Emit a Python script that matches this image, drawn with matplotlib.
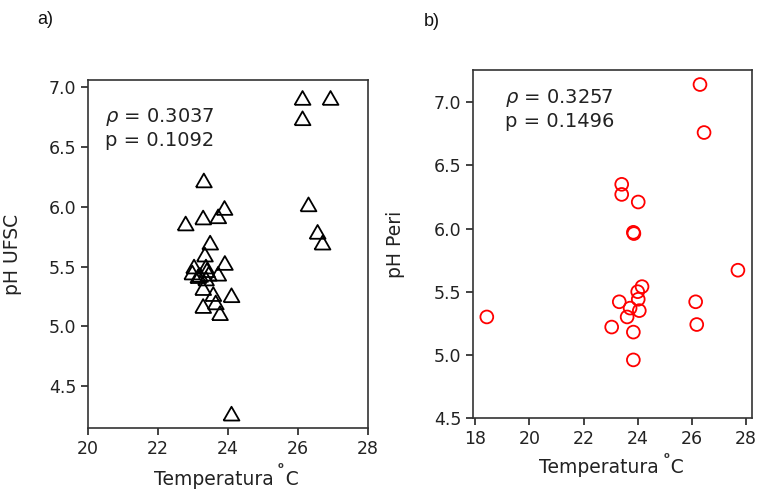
import matplotlib
matplotlib.use("Agg")
import matplotlib.pyplot as plt

# Panel a: temperature vs pH (UFSC)
temp_ufsc = [26.13, 26.93, 26.13, 26.30, 26.56, 26.70, 24.10,
             23.31, 23.90, 23.72, 23.29, 22.79, 23.49, 23.34, 23.91,
             23.03, 23.37, 22.98, 23.20, 23.45, 23.72, 23.37, 23.29,
             23.58, 24.10, 23.65, 23.29, 23.77, 23.15, 23.40]
ph_ufsc = [6.91, 6.91, 6.74, 6.02, 5.79, 5.70, 4.27,
           6.22, 5.99, 5.92, 5.91, 5.86, 5.70, 5.60, 5.53,
           5.50, 5.50, 5.45, 5.43, 5.44, 5.44, 5.40, 5.32,
           5.27, 5.26, 5.20, 5.17, 5.11, 5.42, 5.47]

# Panel b: temperature vs pH (Peri)
temp_peri = [26.30, 26.45, 23.41, 23.41, 24.02, 23.84, 23.86, 27.70,
             24.16, 24.00, 23.32, 26.14, 24.02, 23.72, 24.06, 23.61,
             18.43, 23.04, 26.18, 23.84, 23.84]
ph_peri = [7.14, 6.76, 6.35, 6.27, 6.21, 5.97, 5.96, 5.67,
           5.54, 5.50, 5.42, 5.42, 5.44, 5.37, 5.35, 5.30,
           5.30, 5.22, 5.24, 5.18, 4.96]

stats_ufsc = ("0.3037", "0.1092")
stats_peri = ("0.3257", "0.1496")

xticks_a = [20, 22, 24, 26, 28]
yticks_a = [4.5, 5.0, 5.5, 6.0, 6.5, 7.0]
xticks_b = [18, 20, 22, 24, 26, 28]
yticks_b = [4.5, 5.0, 5.5, 6.0, 6.5, 7.0]

W, H = 760, 490
fig = plt.figure(figsize=(W / 100, H / 100), dpi=100)


def rect(x0, y0, x1, y1):
    return [x0 / W, 1 - y1 / H, (x1 - x0) / W, (y1 - y0) / H]


ax_a = fig.add_axes(rect(88, 80, 368, 428))
ax_b = fig.add_axes(rect(473, 70, 752, 418))

# slightly wide open triangle
tri = [(-1.15, -1.0), (1.15, -1.0), (0.0, 1.0), (-1.15, -1.0)]

ax_a.scatter(temp_ufsc, ph_ufsc, marker=tri, s=130, facecolors="none",
             edgecolors="black", linewidths=1.3)
ax_b.scatter(temp_peri, ph_peri, marker="o", s=85, facecolors="none",
             edgecolors="red", linewidths=1.3)

ax_a.set_xlim(20, 28)
ax_a.set_ylim(4.15, 7.06)
ax_a.set_xticks(xticks_a)
ax_a.set_yticks(yticks_a)
ax_a.set_yticklabels([f"{v:.1f}" for v in yticks_a])

ax_b.set_xlim(17.92, 28.22)
ax_b.set_ylim(4.5, 7.255)
ax_b.set_xticks(xticks_b)
ax_b.set_yticks(yticks_b)
ax_b.set_yticklabels([f"{v:.1f}" for v in yticks_b])

for ax in (ax_a, ax_b):
    ax.tick_params(labelsize=12.5, length=5, width=1.2, colors="#222222")
    for sp in ax.spines.values():
        sp.set_linewidth(1.2)
        sp.set_color("#333333")
    ax.set_xlabel("Temperatura  C", fontsize=13.5, color="#222222")

ax_a.set_ylabel("pH UFSC", fontsize=13.5, color="#222222")
ax_b.set_ylabel("pH Peri", fontsize=13.5, color="#222222")
ax_a.yaxis.set_label_coords((22 - 88) / 280, 0.5)
ax_b.yaxis.set_label_coords((405 - 473) / 279, 0.5)
ax_a.xaxis.set_label_coords((226 - 88) / 280, (428 - 470) / 348)
ax_b.xaxis.set_label_coords((611 - 473) / 279, (418 - 458) / 348)

ax_a.text((105 - 88) / 280, 1 - (128 - 80) / 348,
          "$\\rho$ = %s\np = %s" % stats_ufsc, transform=ax_a.transAxes,
          fontsize=14, va="center", ha="left", linespacing=1.15, color="#222222")
ax_b.text((505 - 473) / 279, 1 - (109 - 70) / 348,
          "$\\rho$ = %s\np = %s" % stats_peri, transform=ax_b.transAxes,
          fontsize=14, va="center", ha="left", linespacing=1.15, color="#222222")

# degree marks
fig.text(280 / W, 1 - 465 / H, "o", fontsize=6, ha="center", va="center",
         color="#333333", fontweight="bold")
fig.text(666 / W, 1 - 455 / H, "o", fontsize=6, ha="center", va="center",
         color="#333333", fontweight="bold")

# panel letters
fig.text(45 / W, 1 - 20 / H, "a)", fontsize=13, ha="center", va="center",
         family="Liberation Sans", color="#111111")
fig.text(432 / W, 1 - 22 / H, "b)", fontsize=13, ha="center", va="center",
         family="Liberation Sans", color="#111111")

fig.savefig("out.png", dpi=100)
